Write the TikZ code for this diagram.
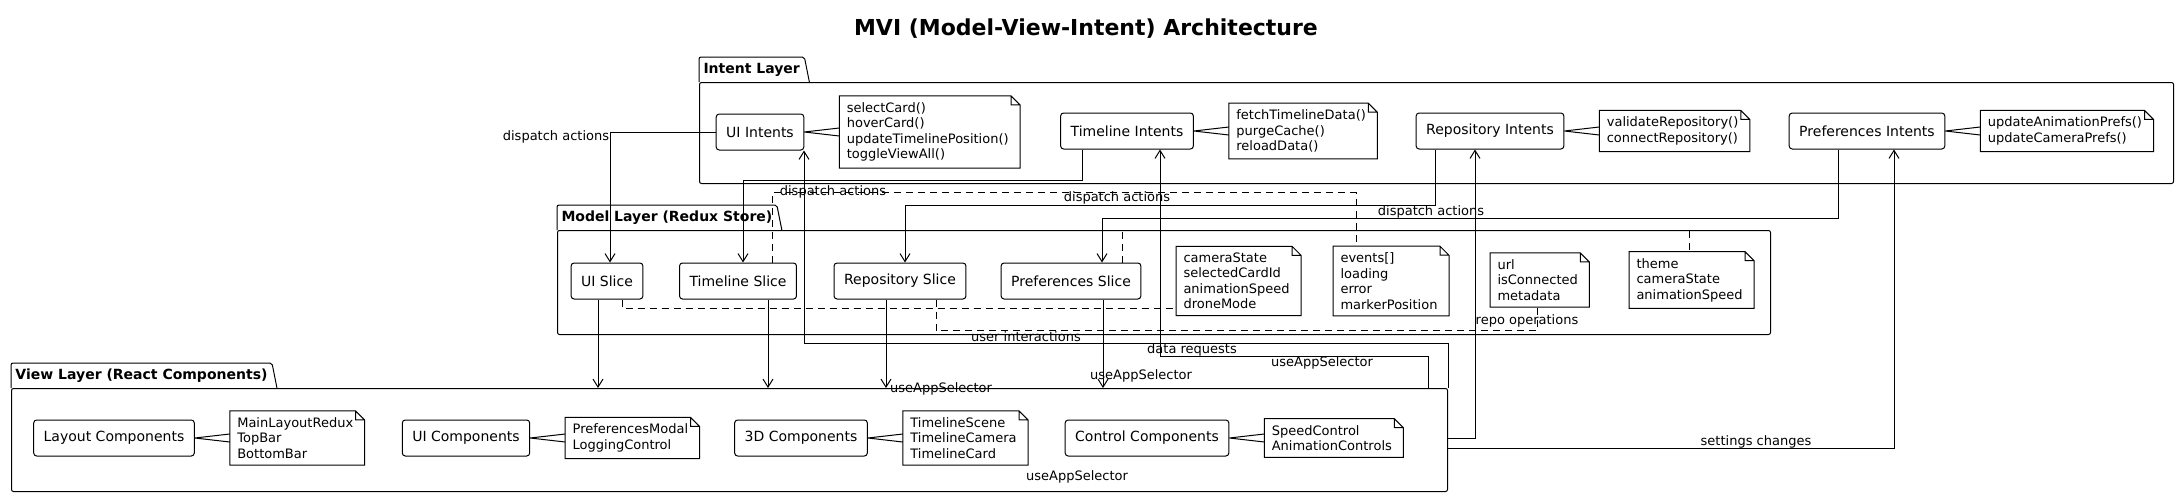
\documentclass[tikz,border=0pt]{standalone}
\usepackage{fontspec}
\setmainfont{DejaVu Sans}
\usepackage{tikz}
\usetikzlibrary{positioning,arrows.meta,calc}

\begin{document}
\begin{tikzpicture}[
  x=1pt, y=-1pt,
  line width=1pt,
  node distance=35pt,
  comp/.style={rectangle, rounded corners=3pt, draw, minimum height=36pt, inner xsep=10pt, font=\fontsize{14}{17}\selectfont},
  note/.style={rectangle, align=left, inner xsep=7pt, inner ysep=6pt, font=\fontsize{13}{15.5}\selectfont},
  pkg/.style={rectangle, rounded corners=2pt, draw, anchor=north west},
  pkgtab/.style={anchor=south west, minimum height=24pt, inner xsep=4pt, font=\fontsize{14}{17}\selectfont\bfseries},
  lbl/.style={inner sep=1pt, font=\fontsize{13}{15}\selectfont},
  arr/.style={-{Straight Barb[length=8pt,width=10pt]}},
  link/.style={dash pattern=on 7pt off 5pt}
]
\fill[white] (0,0) rectangle (2180,496);
\useasboundingbox (0,0) rectangle (2180,496);
\node[font=\fontsize{22}{26}\selectfont\bfseries] (title) at (1086,29) {MVI (Model-View-Intent) Architecture};

% Intent Layer
\node[pkg, minimum width=1474pt, minimum height=101pt] (intent) at (699,82) {};
\node[pkgtab] (intenttab) at (intent.north west) {Intent Layer};
\node[comp] (uiint) at (760,132) {UI Intents};
\node[note, right=of uiint] (uinote) {selectCard()\\hoverCard()\\updateTimelinePosition()\\toggleViewAll()};
\node[comp] (tlint) at (1127,131) {Timeline Intents};
\node[note, right=of tlint] (tlnote) {fetchTimelineData()\\purgeCache()\\reloadData()};
\node[comp] (repoint) at (1490,131) {Repository Intents};
\node[note, right=of repoint] (reponote) {validateRepository()\\connectRepository()};
\node[comp] (prefint) at (1867,131) {Preferences Intents};
\node[note, right=of prefint] (prefnote) {updateAnimationPrefs()\\updateCameraPrefs()};

% Model Layer
\node[pkg, minimum width=1213pt, minimum height=104pt] (model) at (557,230) {};
\node[pkgtab] (modeltab) at (model.north west) {Model Layer (Redux Store)};
\node[comp] (uislice) at (607,281) {UI Slice};
\node[comp] (tlslice) at (738,281) {Timeline Slice};
\node[comp] (reposlice) at (900,281) {Repository Slice};
\node[comp] (prefslice) at (1071,281) {Preferences Slice};
\node[note, anchor=west] (camnote) at (1176,281) {cameraState\\selectedCardId\\animationSpeed\\droneMode};
\node[note, anchor=west] (evnote) at (1333,281) {events[]\\loading\\error\\markerPosition};
\node[note, anchor=west] (urlnote) at (1490,280) {url\\isConnected\\metadata};
\node[note, anchor=west] (themenote) at (1629,280) {theme\\cameraState\\animationSpeed};

% View Layer
\node[pkg, minimum width=1436pt, minimum height=103pt] (view) at (11,388) {};
\node[pkgtab] (viewtab) at (view.north west) {View Layer (React Components)};
\node[comp] (layoutcomp) at (114,438) {Layout Components};
\node[note, right=of layoutcomp] (layoutnote) {MainLayoutRedux\\TopBar\\BottomBar};
\node[comp] (uicomp) at (466,438) {UI Components};
\node[note, right=of uicomp] (uicompnote) {PreferencesModal\\LoggingControl};
\node[comp] (threedcomp) at (801,438) {3D Components};
\node[note, right=of threedcomp] (threednote) {TimelineScene\\TimelineCamera\\TimelineCard};
\node[comp] (ctrlcomp) at (1147,438) {Control Components};
\node[note, right=of ctrlcomp] (ctrlnote) {SpeedControl\\AnimationControls};

% package tabs
\foreach \t in {intenttab,modeltab,viewtab}
  \draw[rounded corners=2pt] (\t.south west) |- (\t.north east) -- ([xshift=5pt]\t.south east);

% notes: folded corner (a little room on the right) and wedge
\foreach \n in {uinote,tlnote,reponote,prefnote,camnote,evnote,urlnote,themenote,layoutnote,uicompnote,threednote,ctrlnote}
  \draw (\n.south west) -- (\n.north west) -- ([xshift=-5pt]\n.north east) -- ([xshift=4pt,yshift=-9pt]\n.north east) -- ([xshift=4pt]\n.south east) -- cycle
        ([xshift=-5pt]\n.north east) |- ([xshift=4pt,yshift=-9pt]\n.north east);
\foreach \c/\n in {uiint/uinote,tlint/tlnote,repoint/reponote,prefint/prefnote,layoutcomp/layoutnote,uicomp/uicompnote,threedcomp/threednote,ctrlcomp/ctrlnote}
  \draw (\c.east) -- ([yshift=4pt]\n.west) (\c.east) -- ([yshift=-4pt]\n.west);

% intents -> slices
\draw[arr] (uiint.west) -| ([xshift=3pt]uislice.north);
\draw[arr] ([xshift=22pt]tlint.south west) -- ++(0,31) -| ([xshift=5pt]tlslice.north);
\draw[arr] ([xshift=20pt]repoint.south west) -- ++(0,56) -| ([xshift=5pt]reposlice.north);
\draw[arr] ([xshift=50pt]prefint.south west) -- ++(0,69) -| ([xshift=31pt]prefslice.north);
\node[lbl] (lbuiint) at (556,137) {dispatch actions};
\node[lbl] (lbtlint) at (833,192) {dispatch actions};
\node[lbl] (lbrepoint) at (1117,198) {dispatch actions};
\node[lbl] (lbprefint) at (1431,212) {dispatch actions};

% slice notes
\draw[link] ([xshift=15pt]uislice.south) |- ([yshift=-27pt]camnote.west);
\draw[link] ([xshift=34pt]tlslice.north) -- ++(0,-70) -| ([xshift=-33pt]evnote.north);
\draw[link] ([xshift=36pt]reposlice.south) -- ++(0,31) -| (urlnote.south);
\draw[link] ([xshift=51pt]prefslice.north) -- ++(0,-32) -| (themenote.north);

% slices -> view
\draw[arr] ([xshift=-9pt]uislice.south) -- ([xshift=-9pt]uislice.south |- view.north);
\draw[arr] ([xshift=30pt]tlslice.south) -- ([xshift=30pt]tlslice.south |- view.north);
\draw[arr] ([xshift=-14pt]reposlice.south) -- ([xshift=-14pt]reposlice.south |- view.north);
\draw[arr] ([xshift=32pt]prefslice.south) -- ([xshift=32pt]prefslice.south |- view.north);
\node[lbl] (lbsel1) at (941,389) {useAppSelector};
\node[lbl] (lbsel2) at (1141,376) {useAppSelector};
\node[lbl] (lbsel3) at (1322,363) {useAppSelector};
\node[lbl] (lbsel4) at (1077,477) {useAppSelector};

% view -> intents
\draw[arr] (view.north east) -- ++(0,-45) -| ([xshift=44pt]uiint.south);
\draw[arr] ([xshift=-20pt]view.north east) -- ++(0,-32) -| ([xshift=33pt]tlint.south);
\draw[arr] ([yshift=2pt]view.east) -| ([xshift=-15pt]repoint.south);
\draw[arr] ([yshift=-8pt]view.east) -| ([xshift=27pt]prefint.south);
\node[lbl] (lbuser) at (1026,337) {user interactions};
\node[lbl] (lbdata) at (1192,350) {data requests};
\node[lbl] (lbrepo) at (1527,321) {repo operations};
\node[lbl] (lbsettings) at (1756,442) {settings changes};
\end{tikzpicture}
\end{document}
